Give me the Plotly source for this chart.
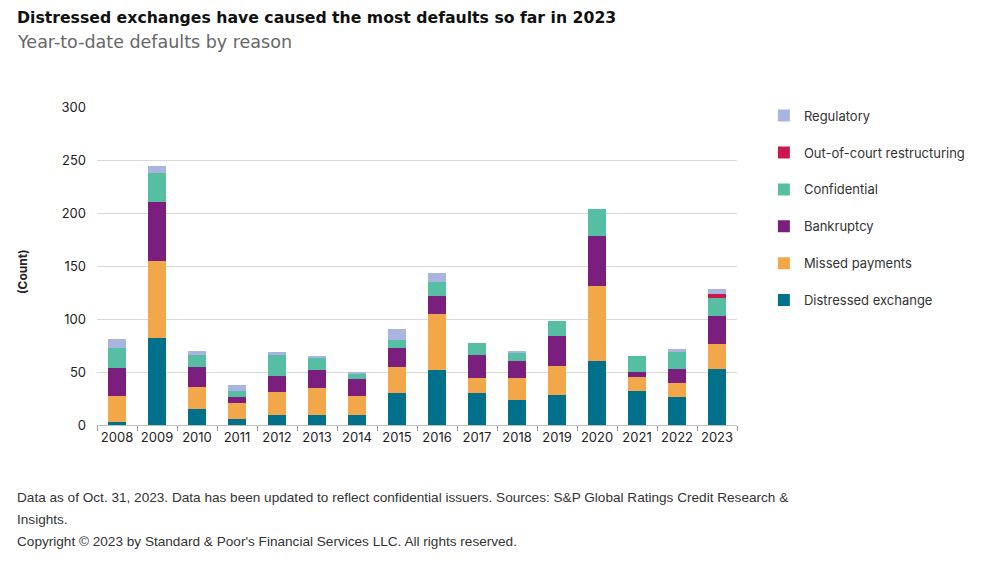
import plotly.graph_objects as go

years = ["2008", "2009", "2010", "2011", "2012", "2013", "2014", "2015",
         "2016", "2017", "2018", "2019", "2020", "2021", "2022", "2023"]

distressed_exchange = [3, 82, 15, 6, 9, 9, 9, 30, 52, 30, 24, 28, 60, 32, 26, 53]
missed_payments     = [24, 73, 21, 15, 22, 26, 18, 25, 53, 14, 20, 28, 71, 13, 14, 23]
bankruptcy          = [27, 55, 19, 5, 15, 17, 16, 18, 17, 22, 16, 28, 47, 5, 13, 27]
confidential        = [19, 28, 11, 6, 20, 12, 6, 7, 13, 11, 8, 14, 26, 15, 16, 17]
out_of_court        = [0, 0, 0, 0, 0, 0, 0, 0, 0, 0, 0, 0, 0, 0, 0, 4]
regulatory          = [8, 6, 4, 6, 3, 1, 1, 11, 8, 0, 1, 0, 0, 0, 3, 4]

series = [
    ("Distressed exchange", distressed_exchange, "#00708b"),
    ("Missed payments", missed_payments, "#f2a74b"),
    ("Bankruptcy", bankruptcy, "#7a1f7d"),
    ("Confidential", confidential, "#56bea2"),
    ("Out-of-court restructuring", out_of_court, "#c8184c"),
    ("Regulatory", regulatory, "#aab4e0"),
]

fig = go.Figure()
n = len(series)
for i, (name, vals, color) in enumerate(series):
    fig.add_trace(go.Bar(
        x=years, y=vals, name=name, marker_color=color,
        marker_line_width=0, legendgroup=f"g{i}", legendrank=n - i,
    ))

fig.update_layout(
    barmode="stack",
    bargap=0.55,
    width=1000, height=563,
    margin=dict(l=97, r=263, t=107, b=138),
    paper_bgcolor="white", plot_bgcolor="white",
    font=dict(family="Inter, Roboto, sans-serif", color="#222222", size=12),
    showlegend=True,
    legend=dict(
        x=1.042, y=1.02, xanchor="left", yanchor="top",
        traceorder="grouped", tracegroupgap=17,
        font=dict(size=13, color="#333333"),
        itemwidth=30,
    ),
    xaxis=dict(
        type="category", showgrid=False, showline=True, linecolor="#bfbfbf",
        linewidth=1, ticks="outside", tickson="boundaries", ticklen=5,
        tickcolor="#999999", tickfont=dict(size=13, color="#222222"),
        tickangle=0,
    ),
    yaxis=dict(
        range=[0, 300], dtick=50, showgrid=True, gridcolor="#d9d9d9",
        gridwidth=1, zeroline=False, showline=False, ticks="",
        tickfont=dict(size=13, color="#222222"), ticklabelstandoff=10,
    ),
    annotations=[
        dict(text="<b>Distressed exchanges have caused the most defaults so far in 2023</b>",
             xref="paper", yref="paper", x=-82/640, y=1 + (107 - 18) / 318,
             xanchor="left", yanchor="middle", showarrow=False,
             font=dict(size=15.7, color="#111111", family="DejaVu Sans")),
        dict(text="Year-to-date defaults by reason",
             xref="paper", yref="paper", x=-82/640, y=1 + (107 - 42) / 318,
             xanchor="left", yanchor="middle", showarrow=False,
             font=dict(size=17.5, color="#666666", family="DejaVu Sans")),
        dict(text="<b>(Count)</b>", textangle=-90,
             xref="paper", yref="paper", x=-75/640, y=1 - (272 - 107) / 318,
             xanchor="center", yanchor="middle", showarrow=False,
             font=dict(size=12, color="#222222")),
        dict(text="Data as of Oct. 31, 2023. Data has been updated to reflect confidential issuers. Sources: S&P Global Ratings Credit Research &",
             xref="paper", yref="paper", x=-82/640, y=-(497 - 425) / 318,
             xanchor="left", yanchor="middle", showarrow=False,
             font=dict(size=13.6, color="#333333", family="Liberation Sans Narrow, Liberation Sans")),
        dict(text="Insights.",
             xref="paper", yref="paper", x=-82/640, y=-(519 - 425) / 318,
             xanchor="left", yanchor="middle", showarrow=False,
             font=dict(size=13.6, color="#333333", family="Liberation Sans Narrow, Liberation Sans")),
        dict(text="Copyright © 2023 by Standard & Poor's Financial Services LLC. All rights reserved.",
             xref="paper", yref="paper", x=-82/640, y=-(541 - 425) / 318,
             xanchor="left", yanchor="middle", showarrow=False,
             font=dict(size=13.6, color="#333333", family="Liberation Sans Narrow, Liberation Sans")),
    ],
)

fig.write_html("out.html", config={"displayModeBar": False},
               post_script="document.body.style.margin='0';")
